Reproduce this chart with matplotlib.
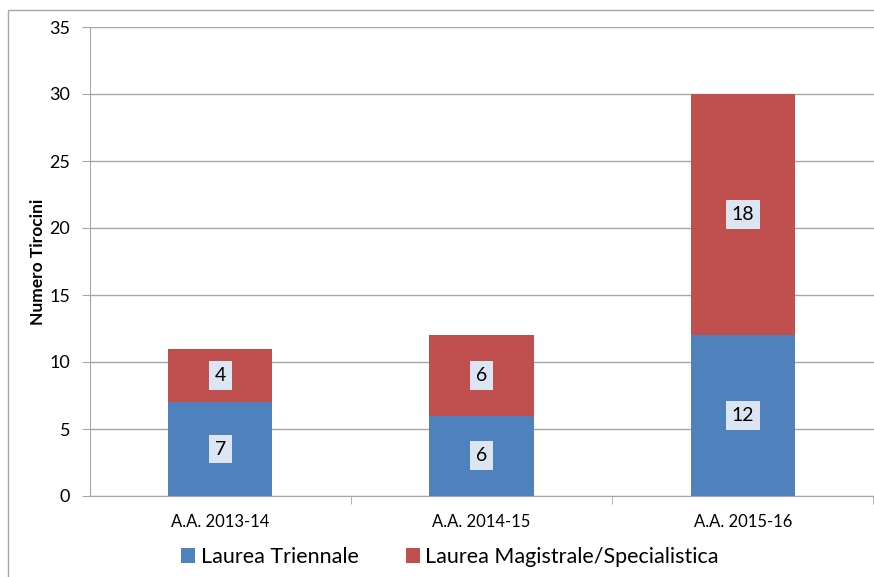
import numpy as np
import matplotlib
matplotlib.use("Agg")
import matplotlib.pyplot as plt
from matplotlib.patches import Rectangle

plt.rcParams['font.family'] = ['Lato', 'DejaVu Sans']

# data
categories = ['A.A. 2013-14', 'A.A. 2014-15', 'A.A. 2015-16']
triennale = [7, 6, 12]
magistrale = [4, 6, 18]
series_names = ['Laurea Triennale', 'Laurea Magistrale/Specialistica']

blue = '#4F81BD'
red = '#C0504D'
grid_col = '#A6A6A6'

fig = plt.figure(figsize=(8.74, 5.77), dpi=100)
ax = fig.add_axes([89.5 / 874, 1 - 496 / 577, (873.5 - 89.5) / 874, (496 - 27) / 577])

x = np.arange(len(categories))
b1 = ax.bar(x, triennale, width=0.4, color=blue, label=series_names[0], zorder=3)
b2 = ax.bar(x, magistrale, width=0.4, bottom=triennale, color=red, label=series_names[1], zorder=3)

box = dict(boxstyle='square,pad=0.3', facecolor='#DCE6F2', edgecolor='none')
for bars, vals, base in [(b1, triennale, [0] * 3), (b2, magistrale, triennale)]:
    for rect, v, b in zip(bars, vals, base):
        ax.text(rect.get_x() + rect.get_width() / 2, b + v / 2, str(v),
                ha='center', va='center', fontsize=14, bbox=box, zorder=4)

ax.set_xlim(-0.5, len(categories) - 0.5)
ax.set_ylim(0, 35)
ax.set_yticks(np.arange(0, 36, 5))
ax.yaxis.grid(True, color=grid_col, linewidth=1)
ax.set_axisbelow(True)

ax.set_xticks(x)
ax.set_xticklabels(categories, fontsize=12)
ax.tick_params(axis='x', length=0, pad=13)
ax.set_xticks(np.arange(0.5, len(categories), 1), minor=True)
ax.tick_params(axis='x', which='minor', length=6, color=grid_col)
ax.tick_params(axis='y', length=6, color=grid_col, labelsize=13, pad=8)

for s in ['top', 'right']:
    ax.spines[s].set_visible(False)
for s in ['left', 'bottom']:
    ax.spines[s].set_color(grid_col)

ax.set_ylabel('Numero Tirocini', fontsize=12.5, fontweight='bold', labelpad=2)

fig.legend(loc='center', bbox_to_anchor=(0.515, 1 - 557 / 577), ncol=2, frameon=False,
           fontsize=15.5, handlelength=0.65, handleheight=0.65, columnspacing=2.2, handletextpad=0.25)

# outer chart border
fig.patches.append(Rectangle((8 / 874, -0.05), 1.0, 1 - 9.5 / 577 + 0.05,
                             transform=fig.transFigure, fill=False,
                             edgecolor='#A6A6A6', linewidth=1))

fig.savefig('out.png', dpi=100)
